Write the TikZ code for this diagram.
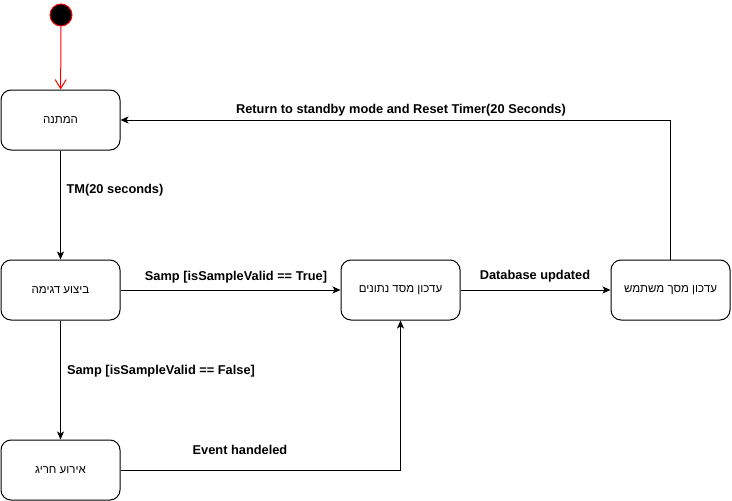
\documentclass[tikz,border=0pt]{standalone}
\usepackage{fontspec}
\setmainfont{Liberation Sans}
\newfontfamily\hebfont[Script=Hebrew]{Liberation Sans}
\TeXXeTstate=1
\usetikzlibrary{arrows.meta,positioning}
\newcommand{\heb}[1]{{\hebfont\beginR #1\endR}}

\begin{document}
\begin{tikzpicture}[x=1pt,y=-1pt,
  state/.style={draw,rounded corners=10pt,line width=1pt,minimum width=119pt,minimum height=60pt,inner sep=0pt,font=\fontsize{11.5}{13}\selectfont},
  start/.style={circle,draw=red,fill=black,line width=1pt,minimum size=22pt,inner sep=0pt},
  edge/.style={line width=1pt,-{Stealth[length=8pt,width=7pt,inset=2pt]}},
  lbl/.style={font=\fontsize{12.8}{15}\selectfont\bfseries,inner sep=0pt}]
\useasboundingbox (0,0) rectangle (732,501);
\node[start] (init) at (61,15) {};
\node[state] (wait) at (60.5,120) {\heb{המתנה}};
\node[state] (samp) at (60.5,290) {\heb{ביצוע דגימה}};
\node[state] (db) at (400.5,290) {\heb{עדכון מסד נתונים}};
\node[state] (screen) at (670.5,290) {\heb{עדכון מסך משתמש}};
\node[state] (event) at (60.5,470) {\heb{אירוע חריג}};
\draw[line width=1pt,red,-{Straight Barb[length=9pt,width=11pt]}] (init) -- (wait);
\draw[edge] (wait) -- (samp);
\draw[edge] (samp) -- (db);
\draw[edge] (db) -- (screen);
\draw[edge] (screen.north) |- (wait.east);
\draw[edge] (samp) -- (event);
\draw[edge] (event.east) -| (db.south);
\node[lbl] (tm) at (115,190) {TM(20 seconds)};
\node[lbl] (valid) at (236,277) {Samp [isSampleValid == True]};
\node[lbl] (dbup) at (535,276) {Database updated};
\node[lbl] (ret) at (401,110) {Return to standby mode and Reset Timer(20 Seconds)};
\node[lbl] (invalid) at (161,371) {Samp [isSampleValid == False]};
\node[lbl] (handled) at (240,450) {Event handeled};
\end{tikzpicture}
\end{document}
